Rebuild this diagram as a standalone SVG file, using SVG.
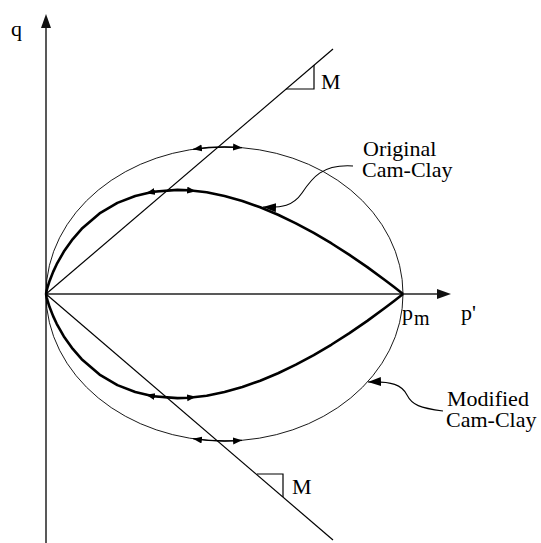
<svg xmlns="http://www.w3.org/2000/svg" width="541" height="543" viewBox="0 0 541 543">
<style>
text{font-family:"Liberation Serif","Times New Roman",serif;font-size:22px;fill:#000}
.axis{stroke:#222;stroke-width:1.5;fill:none}
.csl{stroke:#000;stroke-width:1.2;fill:none}
.thin{stroke:#000;stroke-width:0.9;fill:none}
.thick{stroke:#000;stroke-width:2.6;fill:none;stroke-linejoin:round}
.dir{stroke:#000;stroke-width:1.3;fill:none;marker-start:url(#sa);marker-end:url(#sa)}
.lead{stroke:#000;stroke-width:1.1;fill:none;marker-end:url(#la)}
</style>
<defs>
<marker id="sa" markerUnits="userSpaceOnUse" markerWidth="10" markerHeight="8" refX="9" refY="3.5" orient="auto-start-reverse"><path d="M0,0 L9,3.5 L0,7 z" fill="#000"/></marker>
<marker id="la" markerUnits="userSpaceOnUse" markerWidth="14" markerHeight="10" refX="13" refY="4.5" orient="auto"><path d="M0,0 L13,4.5 L0,9 z" fill="#000"/></marker>
</defs>
<rect width="541" height="543" fill="#fff"/>
<g id="axes">
<line class="axis" x1="46" y1="543" x2="46" y2="26"/>
<path d="M46,14 L41,28 L51,28 z" fill="#111"/>
<line class="axis" x1="46" y1="294" x2="439" y2="294"/>
<path d="M451,294 L437,289 L437,299 z" fill="#111"/>
<text x="11" y="36">q</text>
<text x="461" y="320">p'</text>
<text x="402" y="320">p</text>
<text x="414" y="325" style="font-size:20px">m</text>
</g>
<g id="csl-upper">
<line class="csl" x1="46" y1="294" x2="333" y2="49"/>
<path class="csl" d="M286,89 L314,89 L314,65"/>
<text x="321" y="89">M</text>
</g>
<g id="csl-lower">
<line class="csl" x1="46" y1="294" x2="333" y2="540"/>
<path class="csl" d="M257,474 L283,474 L283,497"/>
<text x="292" y="494">M</text>
</g>
<g id="modified-cam-clay">
<ellipse class="thin" cx="224.5" cy="294" rx="178.5" ry="147"/>
<path class="dir" d="M193,149.3 A178.5,147 0 0,1 242,147.7"/>
<path class="dir" d="M193,438.7 A178.5,147 0 0,0 242,440.3"/>
</g>
<g id="original-cam-clay">
<polyline class="thick" points="46,294 46.71,290.48 47.79,286.5 49.57,280.97 53.14,271.86 56.71,264.23 63.85,251.61 72.78,239.02 81.7,228.83 99.55,213.47 117.4,202.91 135.25,195.92 153.1,191.78 177.4,189.9 188.8,190.28 206.65,192.31 224.5,195.93 242.35,200.95 260.2,207.26 278.05,214.75 295.9,223.34 313.75,232.94 331.6,243.48 349.45,254.91 367.3,267.16 385.15,280.21 394.1,287.01 403,294"/>
<polyline class="thick" points="46,294 46.71,297.52 47.79,301.5 49.57,307.03 53.14,316.14 56.71,323.77 63.85,336.39 72.78,348.98 81.7,359.17 99.55,374.53 117.4,385.09 135.25,392.08 153.1,396.22 177.4,398.1 188.8,397.72 206.65,395.69 224.5,392.07 242.35,387.05 260.2,380.74 278.05,373.25 295.9,364.66 313.75,355.06 331.6,344.52 349.45,333.09 367.3,320.84 385.15,307.79 394.1,300.99 403,294"/>
<path class="dir" d="M146,193.2 Q171,188.2 196,191.2"/>
<path class="dir" d="M146,394.8 Q171,399.8 196,396.8"/>
</g>
<g id="connectors">
<path class="lead" d="M353,166 C322,164 312,178 302,193 C293,206 282,208 263,207"/>
<path class="lead" d="M443,411 C420,408 412,405 407,395 C402,385 392,381 368,382"/>
</g>
<g id="label-original">
<text x="363" y="156">Original</text>
<text x="362" y="177">Cam-Clay</text>
</g>
<g id="label-modified">
<text x="447" y="406">Modified</text>
<text x="446" y="427">Cam-Clay</text>
</g>
</svg>
